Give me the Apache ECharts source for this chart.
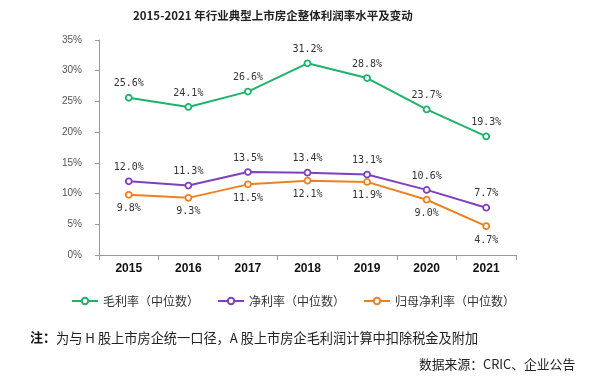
<!DOCTYPE html>
<html><head><meta charset="utf-8">
<script src="https://cdn.jsdelivr.net/npm/echarts@6/dist/echarts.min.js"></script>
<style>html,body{margin:0;padding:0;background:#fff}#c{width:600px;height:383px}</style>
</head><body><div id="c"></div>
<script>
var categories = ['2015','2016','2017','2018','2019','2020','2021'];
var grossMargin = [25.6, 24.1, 26.6, 31.2, 28.8, 23.7, 19.3];
var netMargin = [12.0, 11.3, 13.5, 13.4, 13.1, 10.6, 7.7];
var parentNetMargin = [9.8, 9.3, 11.5, 12.1, 11.9, 9.0, 4.7];
var seriesNames = ['毛利率（中位数）', '净利率（中位数）', '归母净利率（中位数）'];
var yTicks = [0, 5, 10, 15, 20, 25, 30, 35];
var titleText = '2015-2021 年行业典型上市房企整体利润率水平及变动';
var noteText = '为与 H 股上市房企统一口径，A 股上市房企毛利润计算中扣除税金及附加';
var sourceText = '数据来源：CRIC、企业公告';

var colors = ['#1db36b', '#7f3fbf', '#f0801f'];
var font = '"Noto Sans CJK SC", sans-serif';
function mk(name, data, color, pos) {
  return {
    name: name, type: 'line', data: data,
    symbol: 'circle', symbolSize: 6,
    itemStyle: { color: '#fff', borderColor: color, borderWidth: 1.8 },
    lineStyle: { color: color, width: 2 },
    label: { show: true, position: pos, distance: 5, color: '#333', fontSize: 10, fontFamily: '"DejaVu Sans Mono", monospace',
      formatter: function (p) { return p.value.toFixed(1) + '%'; } }
  };
}
var chart = echarts.init(document.getElementById('c'));
chart.setOption({
  animation: false,
  color: colors,
  title: { text: titleText, left: 128, top: 5,
    textStyle: { fontSize: 11.5, fontWeight: 'bold', color: '#222', fontFamily: font } },
  grid: { left: 99, right: 84, top: 40, bottom: 128 },
  xAxis: {
    type: 'category', data: categories, boundaryGap: true,
    axisLine: { lineStyle: { color: '#999' } },
    axisTick: { show: true, length: 5, lineStyle: { color: '#999' } },
    axisLabel: { color: '#111', fontWeight: 'bold', fontSize: 12, margin: 8, fontFamily: '"Liberation Sans", Arial, sans-serif' }
  },
  yAxis: {
    type: 'value', min: yTicks[0], max: yTicks[yTicks.length - 1], interval: 5,
    axisLine: { show: true, lineStyle: { color: '#999' } },
    axisTick: { show: true, length: 4, lineStyle: { color: '#999' } },
    splitLine: { show: false },
    axisLabel: { color: '#555', fontSize: 10, margin: 17, fontFamily: '"Liberation Sans", Arial, sans-serif', formatter: '{value}%' }
  },
  legend: {
    data: seriesNames, left: 66, top: 290, itemGap: 18, itemWidth: 26, itemHeight: 8,
    textStyle: { fontSize: 12, color: '#333', fontFamily: font }
  },
  graphic: [
    { type: 'text', left: 30, top: 331, style: { text: '注：', font: 'bold 13px ' + font, fill: '#111' } },
    { type: 'text', left: 56, top: 331, style: { text: noteText, font: '13.2px ' + font, fill: '#222' } },
    { type: 'text', left: 419, top: 358, style: { text: sourceText, font: '12.8px ' + font, fill: '#222' } }
  ],
  series: [
    mk(seriesNames[0], grossMargin, colors[0], 'top'),
    mk(seriesNames[1], netMargin, colors[1], 'top'),
    mk(seriesNames[2], parentNetMargin, colors[2], 'bottom')
  ]
});
</script></body></html>
